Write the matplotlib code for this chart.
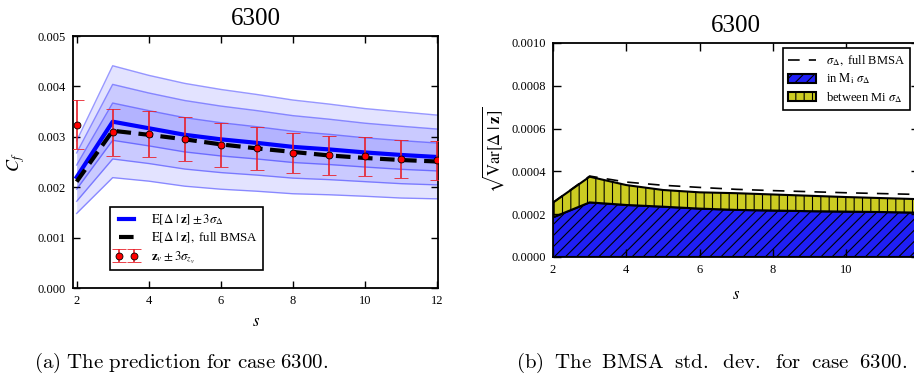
import numpy as np
import matplotlib
matplotlib.use('Agg')
from matplotlib import pyplot as plt
from matplotlib.ticker import FormatStrFormatter

plt.rcParams['font.family'] = ['Liberation Serif', 'DejaVu Serif']
plt.rcParams['mathtext.fontset'] = 'stix'
plt.rcParams['hatch.linewidth'] = 0.8

# ortak x ekseni
s = [2, 3, 4, 5, 6, 7, 8, 9, 10, 11, 12]

# (a) tahmin, birim 1e-3
cf_ort = [2.20, 3.30, 3.17, 3.04, 2.95, 2.88, 2.80, 2.75, 2.69, 2.64, 2.60]
cf_sigma = [0.24, 0.37, 0.35, 0.34, 0.33, 0.32, 0.31, 0.30, 0.29, 0.285, 0.277]
cf_bmsa = [2.11, 3.12, 3.04, 2.95, 2.85, 2.77, 2.70, 2.63, 2.58, 2.54, 2.51]
cf_veri = [3.24, 3.09, 3.05, 2.95, 2.84, 2.77, 2.68, 2.63, 2.61, 2.56, 2.53]
cf_hata = [0.49, 0.465, 0.455, 0.435, 0.435, 0.42, 0.40, 0.395, 0.39, 0.385, 0.38]

# (b) standart sapma, birim 1e-4
std_ic = [1.85, 2.55, 2.43, 2.35, 2.26, 2.20, 2.17, 2.14, 2.12, 2.10, 2.07]
std_toplam = [2.54, 3.75, 3.36, 3.13, 3.02, 2.98, 2.92, 2.86, 2.80, 2.75, 2.70]
std_bmsa = [2.54, 3.78, 3.50, 3.35, 3.25, 3.16, 3.10, 3.05, 3.00, 2.96, 2.92]

fig = plt.figure(figsize=(9.14, 3.83), dpi=100)

######## (a) ########
ax1 = fig.add_axes([0.0799, 0.248, 0.3995, 0.658])
x = np.array(s)
m = np.array(cf_ort) * 1e-3
sg = np.array(cf_sigma) * 1e-3

for k in [3, 2, 1]:
    ax1.fill_between(x, m - k * sg, m + k * sg, color='b', alpha=0.11, lw=0)
    ax1.plot(x, m + k * sg, color='b', alpha=0.4, lw=1)
    ax1.plot(x, m - k * sg, color='b', alpha=0.4, lw=1)

ax1.plot(x, m, color='b', lw=3, label=r'$\mathrm{E}\left[\Delta\;|\;\mathbf{z}\right]\pm3\sigma_{\Delta}$')
ax1.plot(x, np.array(cf_bmsa) * 1e-3, 'k--', lw=3, dashes=(3.5, 1.8),
         label=r'$\mathrm{E}\left[\Delta\;|\;\mathbf{z}\right],$ full BMSA')
ax1.errorbar(x, np.array(cf_veri) * 1e-3, yerr=np.array(cf_hata) * 1e-3, fmt='o',
             color='red', mec='k', mew=0.6, ms=5, ecolor='#e8202a', elinewidth=1.2,
             capsize=5, capthick=1.2, label=r'$\mathbf{z}_v\pm3\sigma_{z_v}$', zorder=5)

ax1.set_xlim(1.9, 12.03)
ax1.set_ylim(0, 0.005)
ax1.set_xticks([2, 4, 6, 8, 10, 12])
ax1.yaxis.set_major_formatter(FormatStrFormatter('%.3f'))
ax1.tick_params(direction='in', top=True, right=True, length=5, width=1, labelsize=9, pad=5)
for sp in ax1.spines.values():
    sp.set_linewidth(1.3)
ax1.set_title('6300', fontsize=18, pad=8)
ax1.set_ylabel(r'$C_f$', fontsize=13, labelpad=8)
ax1.set_xlabel(r'$s$', fontsize=12, labelpad=5)
lg = ax1.legend(loc='lower left', bbox_to_anchor=(0.10, 0.07), fontsize=9.3, numpoints=2,
                fancybox=False, edgecolor='k', framealpha=1, handlelength=1.8,
                handletextpad=1.0, borderaxespad=0, labelspacing=0.3)
lg.get_frame().set_linewidth(1.2)

######## (b) ########
ax2 = fig.add_axes([0.605, 0.329, 0.401, 0.559])
ic = np.array(std_ic) * 1e-4
top = np.array(std_toplam) * 1e-4

ax2.plot(x, np.array(std_bmsa) * 1e-4, 'k--', lw=1.2, dashes=(7, 5.5), label=r'$\sigma_{\Delta},$ full BMSA')
ax2.fill_between(x, 0, ic, facecolor='#1f1ff5', edgecolor='k', hatch='///', lw=1.5,
                 label=r'in $\mathrm{M_i}\ \sigma_{\Delta}$')
ax2.fill_between(x, ic, top, facecolor='#cccc22', edgecolor='k', hatch='||', lw=1.5,
                 label=r'between Mi $\sigma_{\Delta}$')

ax2.set_xlim(2, 12)
ax2.set_ylim(0, 0.001)
ax2.set_xticks([2, 4, 6, 8, 10])
ax2.set_yticks([0, 0.0002, 0.0004, 0.0006, 0.0008, 0.001])
ax2.yaxis.set_major_formatter(FormatStrFormatter('%.4f'))
ax2.tick_params(direction='in', top=True, right=True, length=6, width=1, labelsize=9, pad=5)
for sp in ax2.spines.values():
    sp.set_linewidth(1.3)
ax2.set_title('6300', fontsize=18, pad=8)
ax2.set_ylabel(r'$\sqrt{\mathrm{Var}\left[\Delta\;|\;\mathbf{z}\right]}$', fontsize=12, labelpad=4)
ax2.set_xlabel(r'$s$', fontsize=12, labelpad=8)
lg2 = ax2.legend(loc='upper right', bbox_to_anchor=(0.975, 0.975), fontsize=9,
                 fancybox=False, edgecolor='k', framealpha=1, handlelength=2.3,
                 borderaxespad=0, labelspacing=0.3)
lg2.get_frame().set_linewidth(1.2)

# alt yazilar
fig.text(0.198, 0.04, r'$\mathrm{(a)\ The\ prediction\ for\ case\ 6300.}$', ha='center',
         fontsize=15, math_fontfamily='cm')
fig.text(0.778, 0.04, r'$\mathrm{(b)\ \;The\ \;BMSA\ \;std.\ \;dev.\ \;for\ \;case\ \;6300.}$',
         ha='center', fontsize=15, math_fontfamily='cm')

plt.savefig('out.png', dpi=100)
